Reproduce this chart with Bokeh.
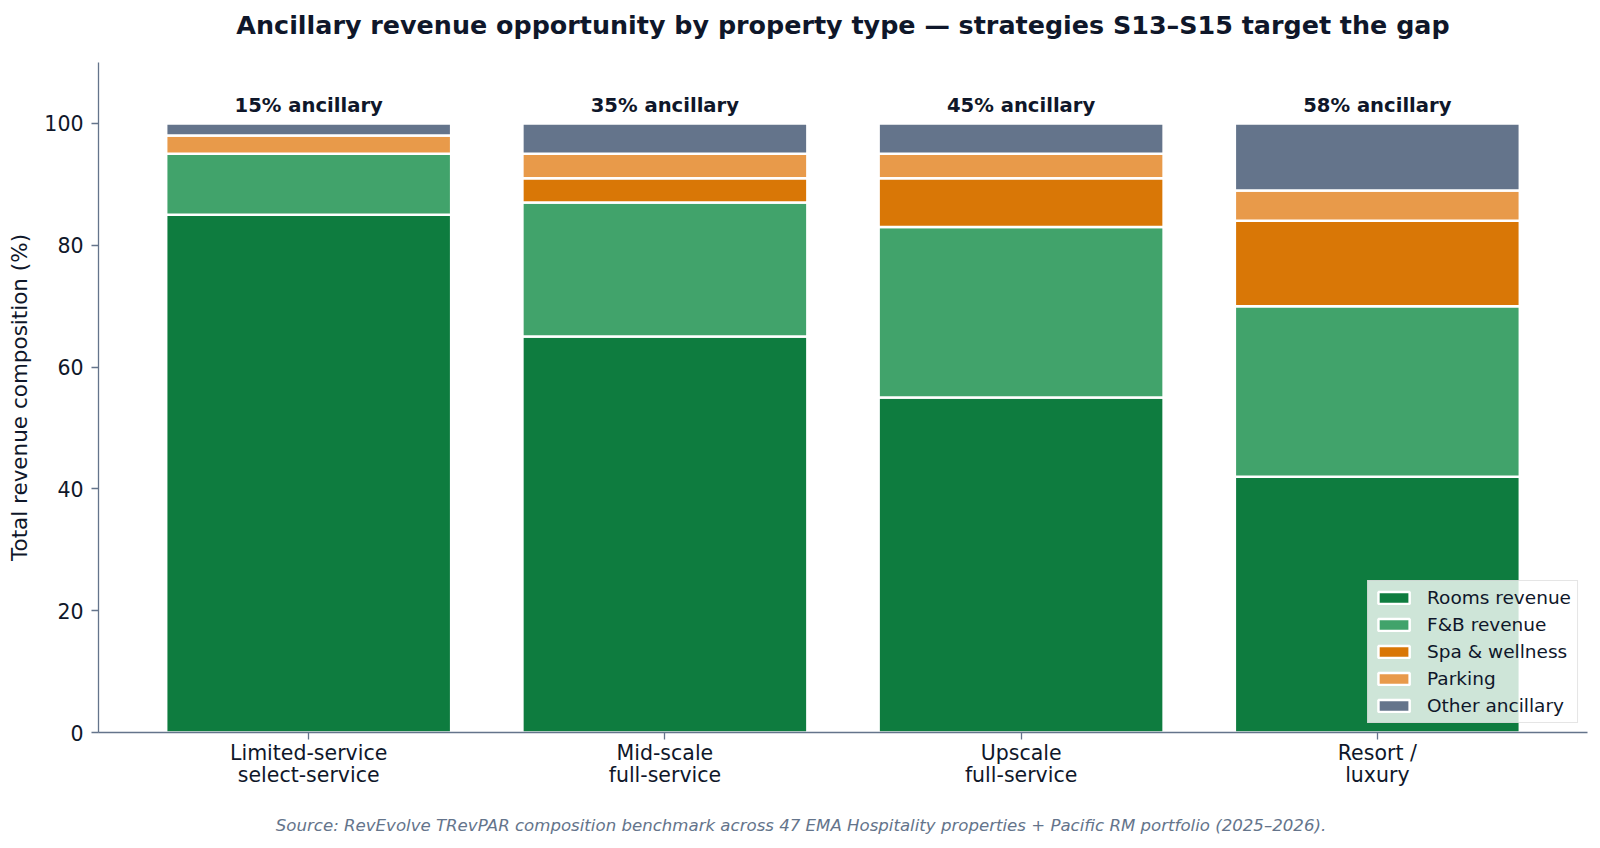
from bokeh.plotting import figure
from bokeh.layouts import column
from bokeh.models import ColumnDataSource, Range1d, FixedTicker, Legend, LabelSet, Label
from bokeh.core.properties import value
from bokeh.embed import file_html
from bokeh.resources import INLINE

categories = ["Limited-service\nselect-service", "Mid-scale\nfull-service",
              "Upscale\nfull-service", "Resort /\nluxury"]
rooms = [85, 65, 55, 42]
fnb = [10, 22, 28, 28]
spa = [0, 4, 8, 14]
parking = [3, 4, 4, 5]
other = [2, 5, 5, 11]
ancillary_pct = [15, 35, 45, 58]
series_names = ["Rooms revenue", "F&B revenue", "Spa & wellness", "Parking", "Other ancillary"]
colors = ["#0e7c3f", "#41a36b", "#d97706", "#e89a4a", "#64748b"]
y_ticks = [0, 20, 40, 60, 80, 100]
title_text = "Ancillary revenue opportunity by property type \u2014 strategies S13\u2013S15 target the gap"
source_text = ("Source: RevEvolve TRevPAR composition benchmark across 47 EMA Hospitality "
               "properties + Pacific RM portfolio (2025\u20132026).")

FONT = "DejaVu Sans"
DARK = "#0f172a"
SLATE = "#64748b"
W = 1596
BL, BR = 98, 9
xs = list(range(len(categories)))
x_mid = (xs[0] + xs[-1]) / 2
x_range = Range1d(-0.59, 3.59)

src = ColumnDataSource(dict(x=xs, rooms=rooms, fnb=fnb, spa=spa, parking=parking, other=other,
                            lab=[f"{v}% ancillary" for v in ancillary_pct],
                            ly=[102.9] * len(xs)))


def text_strip(height):
    f = figure(width=W, height=height, output_backend="svg", toolbar_location=None,
               x_range=x_range, y_range=Range1d(0, 1), x_axis_type=None, y_axis_type=None,
               min_border_left=BL, min_border_right=BR, min_border_top=0, min_border_bottom=0)
    f.outline_line_color = None
    f.grid.visible = False
    return f


# title strip
top = text_strip(49)
top.add_layout(Label(x=x_mid, y=0.5, text=title_text, text_align="center", text_baseline="middle",
                     text_font=FONT, text_font_size="25.4px", text_font_style="bold",
                     text_color=DARK))

# main chart
p = figure(width=W, height=749, output_backend="svg", toolbar_location=None,
           x_range=x_range, y_range=Range1d(0, 110),
           min_border_left=BL, min_border_right=BR, min_border_top=13, min_border_bottom=66)

renderers = p.vbar_stack(["rooms", "fnb", "spa", "parking", "other"], x="x", width=0.8,
                         color=colors, line_color="white", line_width=2.5, source=src)

legend = Legend(items=[(n, [r]) for n, r in zip(series_names, renderers)], location="bottom_right")
legend.label_text_font = FONT
legend.label_text_font_size = "18.5px"
legend.label_text_color = DARK
legend.label_height = 20
legend.background_fill_alpha = 0.8
legend.border_line_color = "#cccccc"
legend.glyph_width = 39
legend.glyph_height = 15
legend.spacing = 6
legend.padding = 6
legend.margin = 9
legend.label_standoff = 14
p.add_layout(legend)

labels = LabelSet(x="x", y="ly", text="lab", source=src, text_align="center", text_baseline="middle",
                  text_font=value(FONT), text_font_size=value("19.6px"), text_font_style="bold",
                  text_color=DARK)
p.add_layout(labels)

p.xgrid.visible = False
p.ygrid.visible = False
p.outline_line_color = None

p.xaxis.ticker = FixedTicker(ticks=xs)
p.xaxis.major_label_overrides = {i: c for i, c in enumerate(categories)}
p.yaxis.ticker = FixedTicker(ticks=y_ticks)
p.yaxis.axis_label = "Total revenue composition (%)"
p.yaxis.axis_label_text_font_style = "normal"
p.yaxis.axis_label_text_font = FONT
p.yaxis.axis_label_text_font_size = "21.5px"
p.yaxis.axis_label_text_color = DARK
p.yaxis.axis_label_standoff = 9
for ax in (p.xaxis, p.yaxis):
    ax.axis_line_color = SLATE
    ax.axis_line_width = 1.3
    ax.major_tick_line_color = SLATE
    ax.major_tick_line_width = 1.3
    ax.minor_tick_line_color = None
    ax.major_tick_in = 0
    ax.major_tick_out = 7
    ax.major_label_text_font = FONT
    ax.major_label_text_font_size = "20.5px"
    ax.major_label_text_color = DARK
p.xaxis.major_label_standoff = 1
p.xaxis.major_label_text_line_height = 0.94
p.yaxis.major_label_standoff = 8

# source strip
bottom = text_strip(49)
bottom.add_layout(Label(x=x_mid, y=0.5, x_offset=-42, y_offset=-2, text=source_text,
                        text_align="center", text_baseline="middle", text_font=FONT,
                        text_font_size="16.6px", text_font_style="italic", text_color=SLATE))

layout = column(top, p, bottom, spacing=0)
open("out.html", "w").write(file_html(layout, INLINE))
